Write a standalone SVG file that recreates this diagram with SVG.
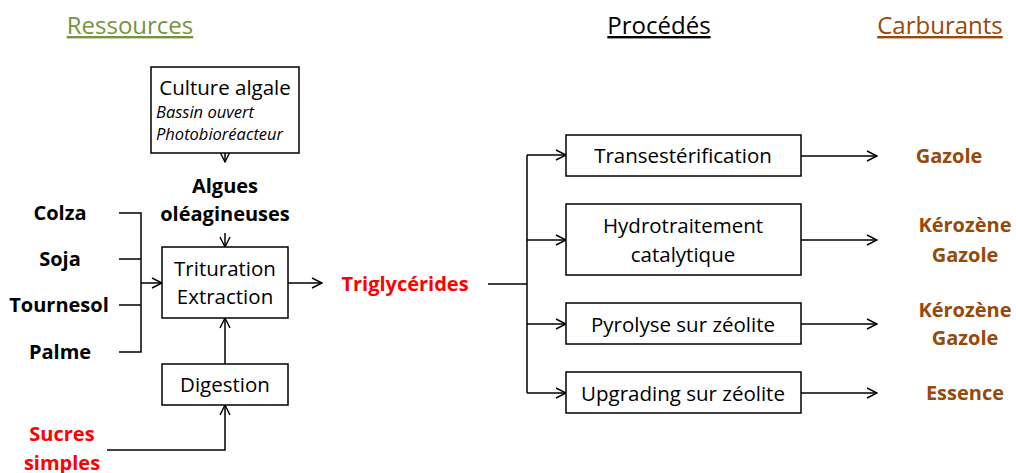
<svg xmlns="http://www.w3.org/2000/svg" width="1016" height="473" viewBox="0 0 1016 473">
<style>
text{font-family:"Open Sans","Liberation Sans",sans-serif;}
.t{font-size:24px;text-decoration:underline;}
.n{font-size:20.5px;fill:#000;text-anchor:middle;}
.i{font-size:16.5px;font-style:italic;}
.b{font-size:20px;font-weight:bold;text-anchor:middle;}
.red{fill:#FF0000;}
.fuel{fill:#984807;font-size:20px;font-weight:bold;text-anchor:middle;}
.box{fill:#fff;stroke:#000;stroke-width:1.5;}
.ln{fill:none;stroke:#000;stroke-width:1.5;}
</style>
<defs>
<marker id="ar" viewBox="0 0 12 12" refX="11" refY="6" markerWidth="12" markerHeight="12" markerUnits="userSpaceOnUse" orient="auto">
<polyline points="1,1 11,6 1,11" fill="none" stroke="#000" stroke-width="1.4"/>
</marker>
</defs>
<rect width="1016" height="473" fill="#fff"/>
<text class="t" x="130" y="34" text-anchor="middle" fill="#77933C">Ressources</text>
<text class="t" x="659" y="34" text-anchor="middle" fill="#000">Procédés</text>
<text class="t" x="940" y="34" text-anchor="middle" fill="#984807">Carburants</text>

<g id="connectors">
<path class="ln" d="M225,153 V162" marker-end="url(#ar)"/>
<path class="ln" d="M225,233 V247" marker-end="url(#ar)"/>
<path class="ln" d="M119,213 H141 V352 H119 M119,259 H141 M119,305 H141"/>
<path class="ln" d="M141,283 H162" marker-end="url(#ar)"/>
<path class="ln" d="M225,364 V318" marker-end="url(#ar)"/>
<path class="ln" d="M107,450 H225 V405" marker-end="url(#ar)"/>
<path class="ln" d="M288,283 H322" marker-end="url(#ar)"/>
<path class="ln" d="M488,284 H527 M527,155 V393"/>
<path class="ln" d="M527,155 H566" marker-end="url(#ar)"/>
<path class="ln" d="M527,240 H566" marker-end="url(#ar)"/>
<path class="ln" d="M527,324 H566" marker-end="url(#ar)"/>
<path class="ln" d="M527,393 H566" marker-end="url(#ar)"/>
<path class="ln" d="M801,156 H877" marker-end="url(#ar)"/>
<path class="ln" d="M801,240 H877" marker-end="url(#ar)"/>
<path class="ln" d="M801,324 H877" marker-end="url(#ar)"/>
<path class="ln" d="M801,393 H877" marker-end="url(#ar)"/>
</g>

<g id="culture">
<rect class="box" x="151" y="67" width="148" height="86"/>
<text class="n" x="225" y="95">Culture algale</text>
<text class="i" x="156" y="118">Bassin ouvert</text>
<text class="i" x="156" y="140">Photobioréacteur</text>
</g>
<g id="algues">
<text class="b" x="225" y="193">Algues</text>
<text class="b" x="225" y="221">oléagineuses</text>
</g>
<g id="colza"><text class="b" x="60" y="220">Colza</text></g>
<g id="soja"><text class="b" x="60" y="266">Soja</text></g>
<g id="tournesol"><text class="b" x="59" y="312">Tournesol</text></g>
<g id="palme"><text class="b" x="60" y="359">Palme</text></g>
<g id="trituration">
<rect class="box" x="162" y="247" width="126" height="71"/>
<text class="n" x="225" y="276">Trituration</text>
<text class="n" x="225" y="304">Extraction</text>
</g>
<g id="digestion">
<rect class="box" x="162" y="364" width="126" height="41"/>
<text class="n" x="225" y="392">Digestion</text>
</g>
<g id="sucres">
<text class="b red" x="62" y="441">Sucres</text>
<text class="b red" x="62" y="470">simples</text>
</g>
<g id="triglycerides"><text class="b red" x="405" y="291">Triglycérides</text></g>
<g id="transest">
<rect class="box" x="566" y="135" width="235" height="41"/>
<text class="n" x="683" y="163">Transestérification</text>
</g>
<g id="hydro">
<rect class="box" x="566" y="204" width="235" height="71"/>
<text class="n" x="683" y="233">Hydrotraitement</text>
<text class="n" x="683" y="262">catalytique</text>
</g>
<g id="pyrolyse">
<rect class="box" x="566" y="303" width="235" height="41"/>
<text class="n" x="683" y="332">Pyrolyse sur zéolite</text>
</g>
<g id="upgrading">
<rect class="box" x="566" y="372" width="235" height="41"/>
<text class="n" x="683" y="401">Upgrading sur zéolite</text>
</g>
<g id="f1"><text class="fuel" x="949" y="163">Gazole</text></g>
<g id="f2"><text class="fuel" x="965" y="232">Kérozène</text><text class="fuel" x="965" y="262">Gazole</text></g>
<g id="f3"><text class="fuel" x="965" y="317">Kérozène</text><text class="fuel" x="965" y="345">Gazole</text></g>
<g id="f4"><text class="fuel" x="965" y="400">Essence</text></g>
</svg>
